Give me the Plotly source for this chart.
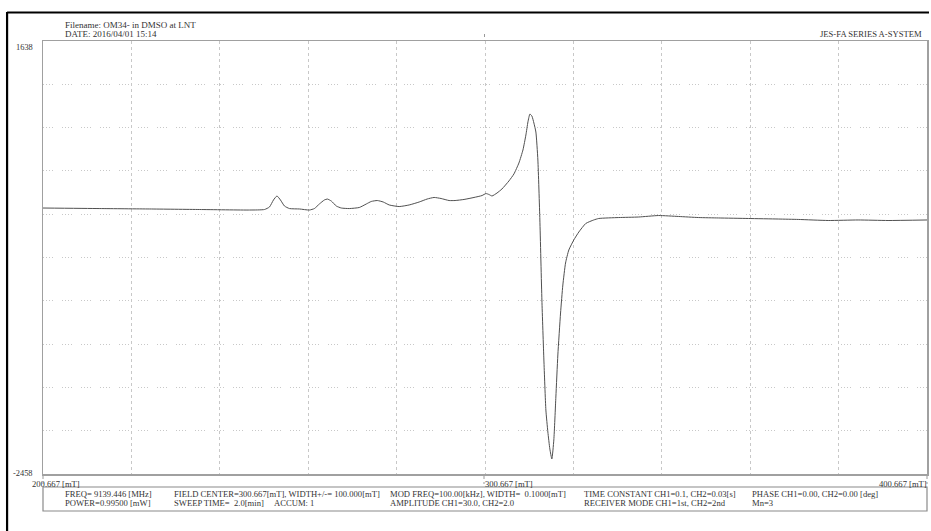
import plotly.graph_objects as go

# ---- data ----
field_mT = [200.667, 213.53, 224.82, 236.11, 247.40, 250.78, 251.91, 252.81, 253.60, 254.39,
            255.30, 256.42, 258.68, 260.94, 262.07, 263.19, 264.32, 265.00, 265.90, 267.03,
            268.16, 269.97, 272.22, 273.80, 274.93, 276.29, 277.64, 279.00, 281.25, 283.51,
            285.77, 287.57, 289.15, 290.73, 292.54, 293.90, 295.93, 298.18, 299.99, 300.89,
            301.57, 302.25, 303.38, 304.50, 306.08, 307.21, 308.34, 309.25, 309.92, 310.38,
            310.83, 311.28, 311.73, 312.18, 312.63, 313.08, 313.54, 313.99, 314.44, 314.89,
            315.34, 315.79, 316.24, 316.70, 317.15, 317.76, 318.28, 318.89, 319.63, 320.76,
            321.89, 323.47, 325.27, 326.40, 330.92, 335.43, 339.95, 344.46, 348.98, 353.49,
            360.26, 367.03, 371.55, 378.32, 385.09, 391.86, 400.667]
intensity = [58, 53, 49, 44, 39, 44, 68, 134, 172, 134,
             77, 53, 49, 39, 53, 96, 134, 143, 124, 77,
             58, 53, 63, 96, 120, 129, 115, 87, 72, 87,
             115, 143, 158, 148, 129, 129, 139, 158, 176, 195,
             186, 172, 200, 238, 314, 380, 484, 607, 749, 872,
             947, 928, 862, 777, 512, -55, -812, -1380, -1853, -2061,
             -2221, -2316, -2136, -1730, -1332, -935, -670, -462, -339, -244,
             -169, -88, -55, -41, -32, -27, -13, -22, -32, -36,
             -41, -46, -50, -60, -55, -60, -55]

x_range = [200.667, 400.667]
y_range = [-2458, 1638]
x_labels = ["200.667 [mT]", "300.667 [mT]", "400.667 [mT]"]
y_labels = ["1638", "-2458"]
header_lines = ["Filename: OM34- in DMSO at LNT", "DATE: 2016/04/01 15:14"]
system_label = "JES-FA SERIES A-SYSTEM"
info_row1 = ["FREQ= 9139.446 [MHz]", "FIELD CENTER=300.667[mT], WIDTH+/-= 100.000[mT]",
             "MOD FREQ=100.00[kHz], WIDTH=  0.1000[mT]", "TIME CONSTANT CH1=0.1, CH2=0.03[s]",
             "PHASE CH1=0.00, CH2=0.00 [deg]"]
info_row2 = ["POWER=0.99500 [mW]", "SWEEP TIME=  2.0[min]", "ACCUM: 1",
             "AMPLITUDE CH1=30.0, CH2=2.0", "RECEIVER MODE CH1=1st, CH2=2nd", "Mn=3"]

# ---- layout geometry (pixels) ----
W, H = 931, 531
L, R, T, B = 43, 929, 41, 474


def px(xp):
    return (xp - L) / (R - L)


def py(yp):
    return (B - yp) / (B - T)


FONT = "Liberation Serif"
TXT = "#333333"

fig = go.Figure()
fig.add_trace(go.Scatter(x=field_mT, y=intensity, mode="lines",
                         line=dict(color="#505050", width=1, shape="spline", smoothing=0.5),
                         hoverinfo="skip", showlegend=False))

ann = []


def add_text(text, xp, yp, anchor="left", size=9):
    ann.append(dict(text=text, x=px(xp), y=py(yp), xref="paper", yref="paper",
                    xanchor=anchor, yanchor="middle", showarrow=False,
                    font=dict(family=FONT, size=size, color=TXT)))


add_text(header_lines[0], 63, 25)
add_text(header_lines[1], 63, 34)
add_text(system_label, 926, 34, anchor="right", size=8.6)
add_text(y_labels[0], 14, 47, size=8.4)
add_text(y_labels[1], 11, 473, size=8.4)
add_text(x_labels[0], 30, 484, size=8.6)
add_text(x_labels[1], 484, 484, size=8.6)
add_text(x_labels[2], 931, 484, anchor="right", size=8.6)

row1_x = [63, 172, 389, 583, 752]
row2_x = [63, 172, 273, 389, 583, 752]
for t, xp in zip(info_row1, row1_x):
    add_text(t, xp, 494, size=8.6)
for t, xp in zip(info_row2, row2_x):
    add_text(t, xp, 503, size=8.6)

shapes = []
# info box
shapes.append(dict(type="rect", xref="paper", yref="paper", x0=px(43), x1=px(929),
                   y0=py(511), y1=py(487), line=dict(color="#8a8a8a", width=1.2)))
# outer black frame (top and left)
shapes.append(dict(type="line", xref="paper", yref="paper", x0=px(7), x1=px(931),
                   y0=py(12.5), y1=py(12.5), line=dict(color="black", width=2.2)))
shapes.append(dict(type="line", xref="paper", yref="paper", x0=px(7), x1=px(7),
                   y0=py(12), y1=py(531), line=dict(color="black", width=2.2)))
# small tick marks below axis
for xp in (43, 485, 929):
    shapes.append(dict(type="line", xref="paper", yref="paper", x0=px(xp), x1=px(xp),
                       y0=py(476), y1=py(484), line=dict(color="#999999", width=1, dash="dot")))
# center mark above plot
shapes.append(dict(type="line", xref="paper", yref="paper", x0=px(485.5), x1=px(485.5),
                   y0=py(34), y1=py(41), line=dict(color="#999999", width=1, dash="dot")))

fig.update_layout(
    width=W, height=H,
    margin=dict(l=L, r=W - R, t=T, b=H - B, pad=0),
    paper_bgcolor="white", plot_bgcolor="white",
    annotations=ann, shapes=shapes,
    xaxis=dict(range=x_range, showticklabels=False, ticks="", zeroline=False,
               showgrid=True, gridcolor="#c8c8c8", gridwidth=1, griddash="dot",
               tick0=200.667, dtick=20,
               showline=True, mirror=True, linecolor="#a0a0a0", linewidth=1.5),
    yaxis=dict(range=y_range, showticklabels=False, ticks="", zeroline=False,
               showgrid=True, gridcolor="#c8c8c8", gridwidth=1,
               griddash="1px,2px,1px,2px,1px,2px,1px,9px",
               tick0=-2458, dtick=409.6,
               showline=True, mirror=True, linecolor="#a0a0a0", linewidth=1.5),
)

fig.write_html("out.html", config={"displayModeBar": False, "staticPlot": True},
               post_script="document.body.style.margin='0px';document.body.style.overflow='hidden';")
